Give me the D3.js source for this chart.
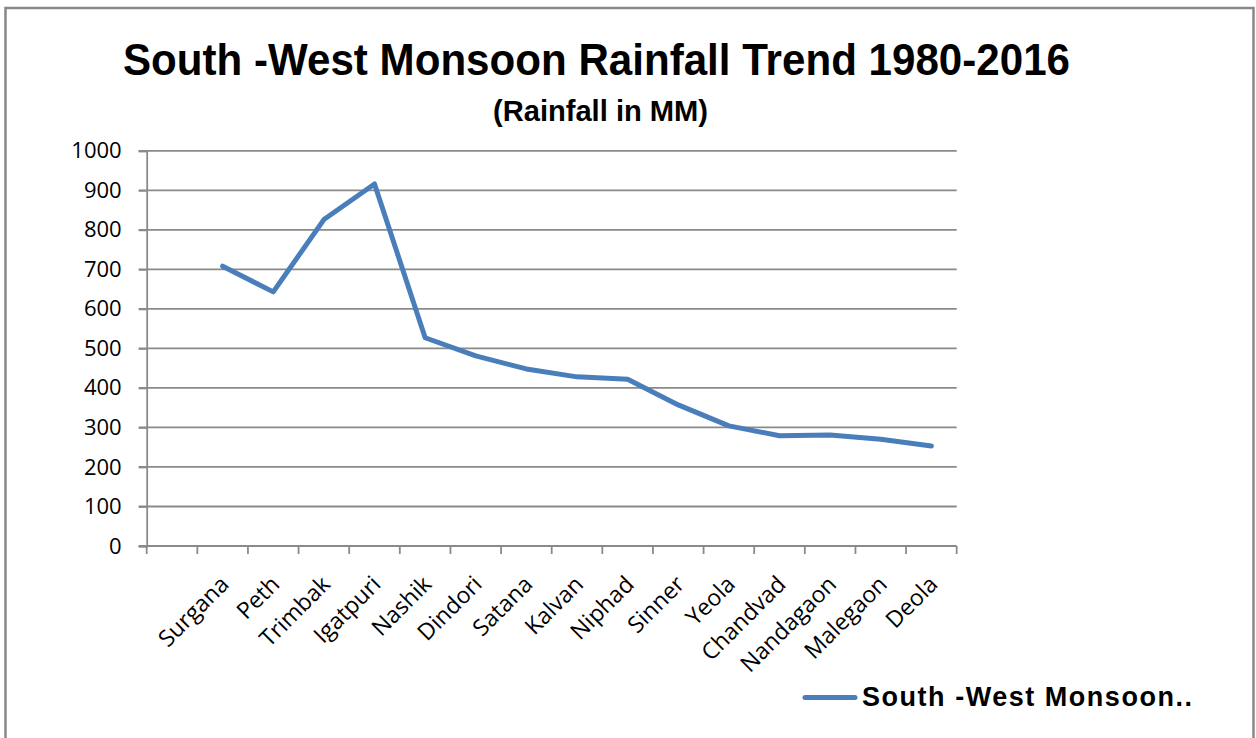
<!DOCTYPE html>
<html>
<head>
<meta charset="utf-8">
<script src="https://cdn.jsdelivr.net/npm/d3@7"></script>
<style>
  body { margin: 0; background: #fff; }
  svg { display: block; }
</style>
</head>
<body>
<div id="container"></div>
<script>
/* DATA */
const categories = ["", "Surgana", "Peth", "Trimbak", "Igatpuri", "Nashik", "Dindori", "Satana",
  "Kalvan", "Niphad", "Sinner", "Yeola", "Chandvad", "Nandagaon", "Malegaon", "Deola"];
const rainfall = [null, 708, 643, 826, 916, 527, 481, 448, 428, 422, 357, 304, 279, 281, 270, 253];
const yTicks = [0, 100, 200, 300, 400, 500, 600, 700, 800, 900, 1000];
const seriesName = "South -West Monsoon..";

/* CONSTANTS */
const W = 1256, H = 738;
const plot = {left: 146.7, right: 956.7, top: 150.8, bottom: 546};
const gridColor = "#8a8a8a";
const lineColor = "#4a7ebb";

const svg = d3.select("#container").append("svg")
    .attr("width", W)
    .attr("height", H);

// chart frame
svg.append("rect")
    .attr("x", 5.5).attr("y", 8)
    .attr("width", 1248).attr("height", 760)
    .attr("fill", "#fff")
    .attr("stroke", "#888")
    .attr("stroke-width", 2.5);

// titles
svg.append("text")
    .attr("x", 123).attr("y", 75)
    .attr("textLength", 947)
    .attr("lengthAdjust", "spacingAndGlyphs")
    .style("font-family", "'Liberation Sans Narrow', 'Liberation Sans', sans-serif")
    .style("font-weight", "bold")
    .style("font-size", "45px")
    .text("South -West Monsoon Rainfall Trend 1980-2016");

svg.append("text")
    .attr("x", 493).attr("y", 121)
    .attr("textLength", 215)
    .attr("lengthAdjust", "spacingAndGlyphs")
    .style("font-family", "'Liberation Sans Narrow', 'Liberation Sans', sans-serif")
    .style("font-weight", "bold")
    .style("font-size", "29px")
    .text("(Rainfall in MM)");

/* SCALES */
const xScale = d3.scaleBand()
    .domain(categories)
    .range([plot.left, plot.right]);

const yScale = d3.scaleLinear()
    .domain([0, 1000])
    .range([plot.bottom, plot.top]);

// gridlines
svg.append("g")
  .selectAll("line")
  .data(yTicks.filter(d => d > 0))
  .join("line")
    .attr("x1", plot.left - 8)
    .attr("x2", plot.right)
    .attr("y1", d => yScale(d))
    .attr("y2", d => yScale(d))
    .attr("stroke", gridColor)
    .attr("stroke-width", 1.8);

// y axis
const yAxis = svg.append("g")
    .attr("transform", "translate(" + plot.left + ",0)")
    .call(d3.axisLeft(yScale).tickValues(yTicks).tickFormat(d3.format("d")).tickSize(8).tickPadding(17));
yAxis.select(".domain").attr("stroke", gridColor).attr("stroke-width", 1.8);
yAxis.selectAll(".tick line").attr("stroke", gridColor).attr("stroke-width", 1.8);
yAxis.selectAll("text")
    .style("font-family", "'Open Sans', sans-serif")
    .style("font-size", "22px")
    .attr("fill", "#000");

// x axis: ticks on band boundaries
const xAxis = svg.append("g")
    .attr("transform", "translate(0," + plot.bottom + ")");
xAxis.append("line")
    .attr("x1", plot.left - 8).attr("x2", plot.right)
    .attr("stroke", gridColor).attr("stroke-width", 1.8);
const boundaries = categories.map(d => xScale(d)).concat([plot.right]);
xAxis.selectAll("line.tick")
  .data(boundaries)
  .join("line")
    .attr("class", "tick")
    .attr("x1", d => d).attr("x2", d => d)
    .attr("y1", 0).attr("y2", 8)
    .attr("stroke", gridColor).attr("stroke-width", 1.8);

xAxis.selectAll("text")
  .data(categories.filter(d => d !== ""))
  .join("text")
    .attr("transform", d => "translate(" + (xScale(d) + xScale.bandwidth() / 2 + 2) + ",34)rotate(-45)")
    .attr("text-anchor", "end")
    .attr("dy", "0.35em")
    .style("font-family", "'Open Sans', sans-serif")
    .style("font-size", "23px")
    .attr("fill", "#000")
    .text(d => d);

/* LINE */
const points = categories.map((c, i) => ({cat: c, value: rainfall[i]})).filter(d => d.value != null);

const line = d3.line()
    .x(d => xScale(d.cat) + xScale.bandwidth() / 2)
    .y(d => yScale(d.value));

svg.append("path")
    .datum(points)
    .attr("d", line)
    .attr("fill", "none")
    .attr("stroke", lineColor)
    .attr("stroke-width", 5)
    .attr("stroke-linejoin", "round")
    .attr("stroke-linecap", "round");

/* LEGEND */
svg.append("line")
    .attr("x1", 805).attr("x2", 855)
    .attr("y1", 697.5).attr("y2", 697.5)
    .attr("stroke", lineColor)
    .attr("stroke-width", 5)
    .attr("stroke-linecap", "round");

svg.append("text")
    .attr("x", 862).attr("y", 706)
    .attr("textLength", 330)
    .attr("lengthAdjust", "spacing")
    .style("font-family", "'Liberation Sans', Arial, sans-serif")
    .style("font-weight", "bold")
    .style("font-size", "27px")
    .text(seriesName);
</script>
</body>
</html>
